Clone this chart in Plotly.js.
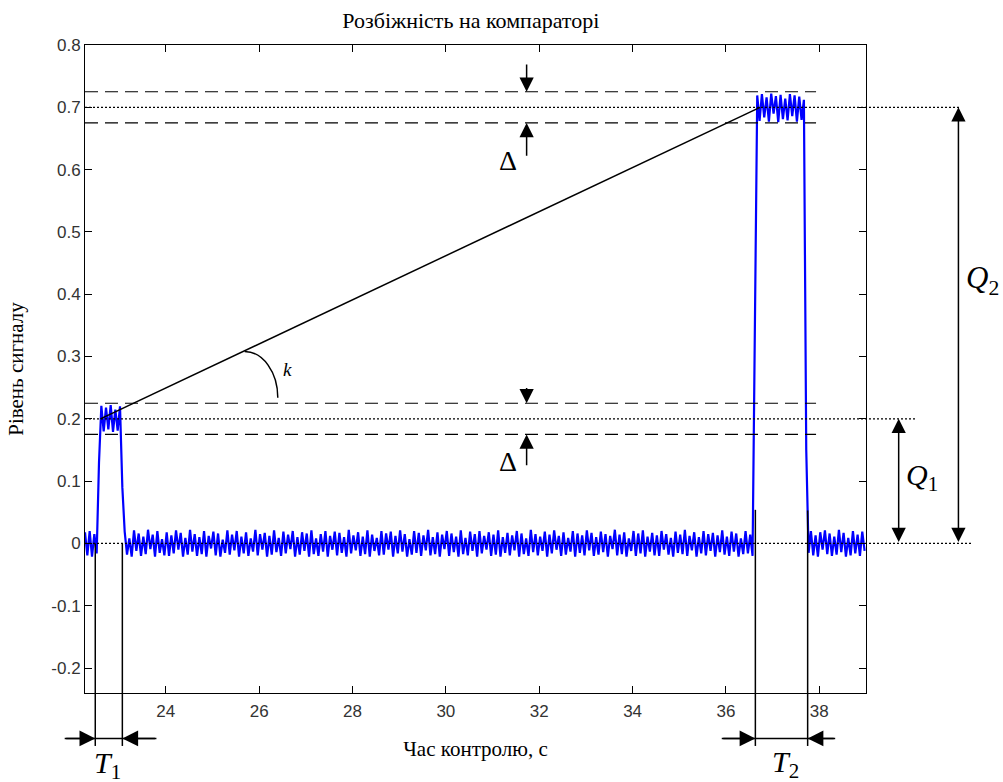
<!DOCTYPE html>
<html>
<head>
<meta charset="utf-8">
<script src="https://cdn.plot.ly/plotly-3.0.1.min.js"></script>
<style>html,body{margin:0;padding:0;background:#fff;}#chart{width:1003px;height:782px;}</style>
</head>
<body>
<div id="chart"></div>
<script>
// ---------- data ----------
const chartTitle = 'Розбіжність на компараторі';
const xTitle = 'Час контролю, с';
const yTitle = 'Рівень сигналу';
const xRange = [22.27, 39.0];
const yRange = [-0.24, 0.8];
const xTickVals = [24, 26, 28, 30, 32, 34, 36, 38];
const xTickText = ['24', '26', '28', '30', '32', '34', '36', '38'];
const yTickVals = [-0.2, -0.1, 0, 0.1, 0.2, 0.3, 0.4, 0.5, 0.6, 0.7, 0.8];
const yTickText = ['-0.2', '-0.1', '0', '0.1', '0.2', '0.3', '0.4', '0.5', '0.6', '0.7', '0.8'];

// signal sampled every 0.05 s starting at 22.27 s
const sampleStart = 22.27;
const sampleStep = 0.05;
const signalLevel = [
  // baseline before first pulse
  0.018,-0.019,0.020,-0.021,0.015,-0.016,
  // rise
  0.13,
  // first pulse top
  0.221,0.180,0.218,0.183,0.222,0.179,0.215,0.181,0.220,
  // fall
  0.09,
  // long baseline
  0.019,-0.018,0.008,-0.021,0.021,-0.012,0.016,-0.020,0.011,-0.017,0.022,-0.009,0.014,-0.021,0.020,-0.015,0.007,-0.019,0.018,-0.020,
  0.013,-0.016,0.021,-0.010,0.017,-0.021,0.009,-0.018,0.022,-0.013,0.015,-0.020,0.010,-0.017,0.020,-0.021,0.012,-0.008,0.019,-0.019,
  0.016,-0.021,0.006,-0.015,0.021,-0.018,0.014,-0.011,0.020,-0.021,0.011,-0.016,0.018,-0.020,0.008,-0.013,0.022,-0.019,0.015,-0.010,
  0.017,-0.021,0.012,-0.018,0.021,-0.014,0.009,-0.020,0.019,-0.016,0.014,-0.009,0.020,-0.021,0.010,-0.018,0.018,-0.012,0.016,-0.021,
  0.021,-0.017,0.008,-0.020,0.015,-0.013,0.020,-0.021,0.012,-0.010,0.019,-0.019,0.017,-0.015,0.010,-0.021,0.022,-0.016,0.013,-0.011,
  0.018,-0.020,0.011,-0.017,0.021,-0.021,0.014,-0.012,0.009,-0.019,0.020,-0.018,0.016,-0.010,0.019,-0.021,0.012,-0.016,0.021,-0.013,
  0.015,-0.021,0.007,-0.018,0.020,-0.015,0.017,-0.020,0.013,-0.011,0.022,-0.019,0.010,-0.017,0.018,-0.021,0.014,-0.009,0.020,-0.020,
  0.016,-0.014,0.011,-0.021,0.021,-0.017,0.009,-0.019,0.019,-0.012,0.015,-0.021,0.020,-0.016,0.012,-0.010,0.018,-0.020,0.014,-0.018,
  0.021,-0.021,0.010,-0.015,0.017,-0.019,0.013,-0.011,0.020,-0.021,0.016,-0.017,0.008,-0.020,0.022,-0.014,0.015,-0.019,0.011,-0.012,
  0.019,-0.021,0.014,-0.016,0.021,-0.010,0.012,-0.020,0.018,-0.018,0.009,-0.013,0.020,-0.021,0.016,-0.015,0.013,-0.019,0.021,-0.011,
  0.017,-0.020,0.010,-0.018,0.019,-0.014,0.015,-0.021,0.012,-0.009,0.022,-0.019,0.014,-0.017,0.018,-0.021,0.008,-0.012,0.020,-0.020,
  0.016,-0.016,0.021,-0.021,0.011,-0.013,0.017,-0.019,0.013,-0.020,0.020,-0.010,0.015,-0.018,0.009,-0.021,0.019,-0.015,0.014,-0.017,
  0.022,-0.020,0.012,-0.011,0.018,-0.021,0.010,-0.016,0.020,-0.019,0.015,-0.012,0.017,-0.021,0.013,-0.014,0.021,-0.018,0.011,-0.020,
  0.019,-0.013,0.016,-0.021,0.008,-0.017,0.020,-0.016,0.014,-0.020,
  // rise
  0.40,
  // second pulse top
  0.719,0.678,0.721,0.684,0.716,0.677,0.722,0.690,0.718,0.676,0.720,0.681,0.714,0.679,0.721,0.686,0.719,0.677,0.717,0.680,0.712,
  // fall
  0.15,
  // baseline after second pulse
  -0.015,0.020,-0.019,0.013,-0.021,0.018,-0.010,0.021,-0.017,0.016,-0.020,0.011,-0.018,0.022,-0.014,0.017,-0.021,0.009,-0.019,0.020,-0.016,0.014,-0.020,0.019,-0.012
];

// levels and marks
const levelQ1 = 0.2;
const levelQ2 = 0.7;
const deltaTol = 0.025;
const t1Bounds = [22.49, 23.07];
const t2Bounds = [36.63, 37.75];
const slopeStart = [22.6, 0.2];
const slopeEnd = [36.73, 0.7];

// ---------- geometry helpers ----------
const W = 1003, H = 782;
const M = {l: 85, r: 137, t: 45, b: 89};
const plotW = W - M.l - M.r;
const plotH = H - M.t - M.b;
const pxX = plotW / (xRange[1] - xRange[0]);
const pxY = plotH / (yRange[1] - yRange[0]);
const xp = v => (v - xRange[0]) / (xRange[1] - xRange[0]);
const yp = v => (v - yRange[0]) / (yRange[1] - yRange[0]);

const serif = "'Liberation Serif', 'Times New Roman', serif";
const sans = "'Liberation Sans', Arial, sans-serif";

const signalTime = signalLevel.map((_, i) => sampleStart + i * sampleStep);

const traces = [{
  type: 'scatter', mode: 'lines',
  x: signalTime, y: signalLevel,
  line: {color: '#0000ff', width: 2.2},
  hoverinfo: 'skip', showlegend: false
}];

const shapes = [];
function dataLine(x0, y0, x1, y1, dash, width) {
  shapes.push({type: 'line', xref: 'x', yref: 'y', x0, y0, x1, y1,
    line: {color: '#000', width: width || 1, dash: dash || 'solid'}});
}
function paperLine(x0, y0, x1, y1, dash, width) {
  shapes.push({type: 'line', xref: 'paper', yref: 'paper',
    x0: xp(x0), y0: yp(y0), x1: xp(x1), y1: yp(y1),
    line: {color: '#000', width: width || 1, dash: dash || 'solid'}});
}
const dashed = '13px,7px';
const dotted = '2px,2px';

// tolerance bands (dashed)
const dashEnd = 37.93;
[levelQ2 + deltaTol, levelQ2 - deltaTol, levelQ1 + deltaTol, levelQ1 - deltaTol].forEach(v =>
  dataLine(xRange[0], v, dashEnd, v, dashed, 1.2));
// dotted reference levels extending past the frame
paperLine(xRange[0], levelQ2, 41.0, levelQ2, dotted, 1.2);
paperLine(xRange[0], levelQ1, 40.05, levelQ1, dotted, 1.2);
paperLine(xRange[0], 0, 41.25, 0, dotted, 1.2);
// slope line
dataLine(slopeStart[0], slopeStart[1], slopeEnd[0], slopeEnd[1], 'solid', 1.5);
// angle arc k
(function () {
  const cx = 25.69, cy = 0.234, rx = 0.71, ry = 0.074, c = 0.552;
  const p = (x, y) => xp(x) + ',' + yp(y);
  shapes.push({type: 'path', xref: 'paper', yref: 'paper',
    path: 'M' + p(cx, cy + ry) + ' C' + p(cx + c * rx, cy + ry) + ' ' + p(cx + rx, cy + c * ry) + ' ' + p(cx + rx, cy),
    line: {color: '#000', width: 1.5}});
})();
// T1, T2 vertical and horizontal lines
const tBottom = -0.325, tArrowY = -0.313;
paperLine(t1Bounds[0], 0, t1Bounds[0], tBottom, 'solid', 1.5);
paperLine(t1Bounds[1], 0, t1Bounds[1], tBottom, 'solid', 1.5);
paperLine(21.835, tArrowY, 23.80, tArrowY, 'solid', 1.5);
paperLine(t2Bounds[0], 0.054, t2Bounds[0], tBottom, 'solid', 1.5);
paperLine(t2Bounds[1], 0.053, t2Bounds[1], tBottom, 'solid', 1.5);
paperLine(35.91, tArrowY, 38.34, tArrowY, 'solid', 1.5);

const annotations = [];
function arrow(hx, hy, tx, ty, size, both) {
  annotations.push({
    xref: 'paper', yref: 'paper', axref: 'pixel', ayref: 'pixel',
    x: xp(hx), y: yp(hy), ax: (tx - hx) * pxX, ay: (hy - ty) * pxY,
    text: '', showarrow: true, arrowhead: 2, arrowsize: size, arrowwidth: 1.5,
    arrowcolor: '#000', standoff: 0, startstandoff: 0,
    arrowside: both ? 'end+start' : 'end', startarrowhead: 2, startarrowsize: size
  });
}
function label(x, y, text, size) {
  annotations.push({xref: 'paper', yref: 'paper', x: xp(x), y: yp(y), text,
    showarrow: false, xanchor: 'center', yanchor: 'middle',
    font: {family: serif, size, color: '#000'}});
}
// delta arrows
const dX = 31.73;
arrow(dX, levelQ2 + deltaTol, dX, 0.771, 1.9);
arrow(dX, levelQ2 - deltaTol, dX, 0.62, 1.9);
arrow(dX, levelQ1 + deltaTol, dX, 0.252, 1.9);
arrow(dX, levelQ1 - deltaTol, dX, 0.123, 1.9);
// Q arrows
arrow(40.98, levelQ2, 40.98, 0, 1.9, true);
arrow(39.70, levelQ1, 39.70, 0, 1.9, true);
// T arrows
arrow(t1Bounds[0], tArrowY, 21.835, tArrowY, 2.1);
arrow(t1Bounds[1], tArrowY, 23.80, tArrowY, 2.1);
arrow(t2Bounds[0], tArrowY, 35.91, tArrowY, 2.1);
arrow(t2Bounds[1], tArrowY, 38.34, tArrowY, 2.1);

label(31.33, 0.615, 'Δ', 28);
label(31.33, 0.131, 'Δ', 28);
label(26.60, 0.279, '<i>k</i>', 19);
label(41.5, 0.423, '<i>Q</i><sub>2</sub>', 31);
label(40.19, 0.106, '<i>Q</i><sub>1</sub>', 30);
label(22.76, -0.356, '<i>T</i><sub>1</sub>', 30);
label(37.28, -0.354, '<i>T</i><sub>2</sub>', 30);

const axisCommon = {
  showline: true, mirror: 'ticks', linecolor: '#000', linewidth: 1,
  ticks: 'inside', ticklen: 7, tickcolor: '#000', tickwidth: 1,
  showgrid: false, zeroline: false,
  tickfont: {family: sans, size: 17, color: '#333'}
};

const layout = {
  width: W, height: H,
  margin: M,
  paper_bgcolor: '#fff', plot_bgcolor: '#fff',
  showlegend: false,
  title: {text: chartTitle, x: 0.494, xref: 'paper', xanchor: 'center', y: 0.974, yref: 'container', yanchor: 'middle',
    font: {family: serif, size: 22, color: '#000'}},
  xaxis: Object.assign({}, axisCommon, {
    range: xRange, tickvals: xTickVals, ticktext: xTickText, ticklabelstandoff: 3,
    title: {text: xTitle, font: {family: serif, size: 21, color: '#000'}, standoff: 20}
  }),
  yaxis: Object.assign({}, axisCommon, {
    range: yRange, tickvals: yTickVals, ticktext: yTickText,
    title: {text: yTitle, font: {family: serif, size: 21, color: '#000'}, standoff: 21}
  }),
  shapes, annotations
};

Plotly.newPlot('chart', traces, layout, {staticPlot: true, displayModeBar: false});
</script>
</body>
</html>
